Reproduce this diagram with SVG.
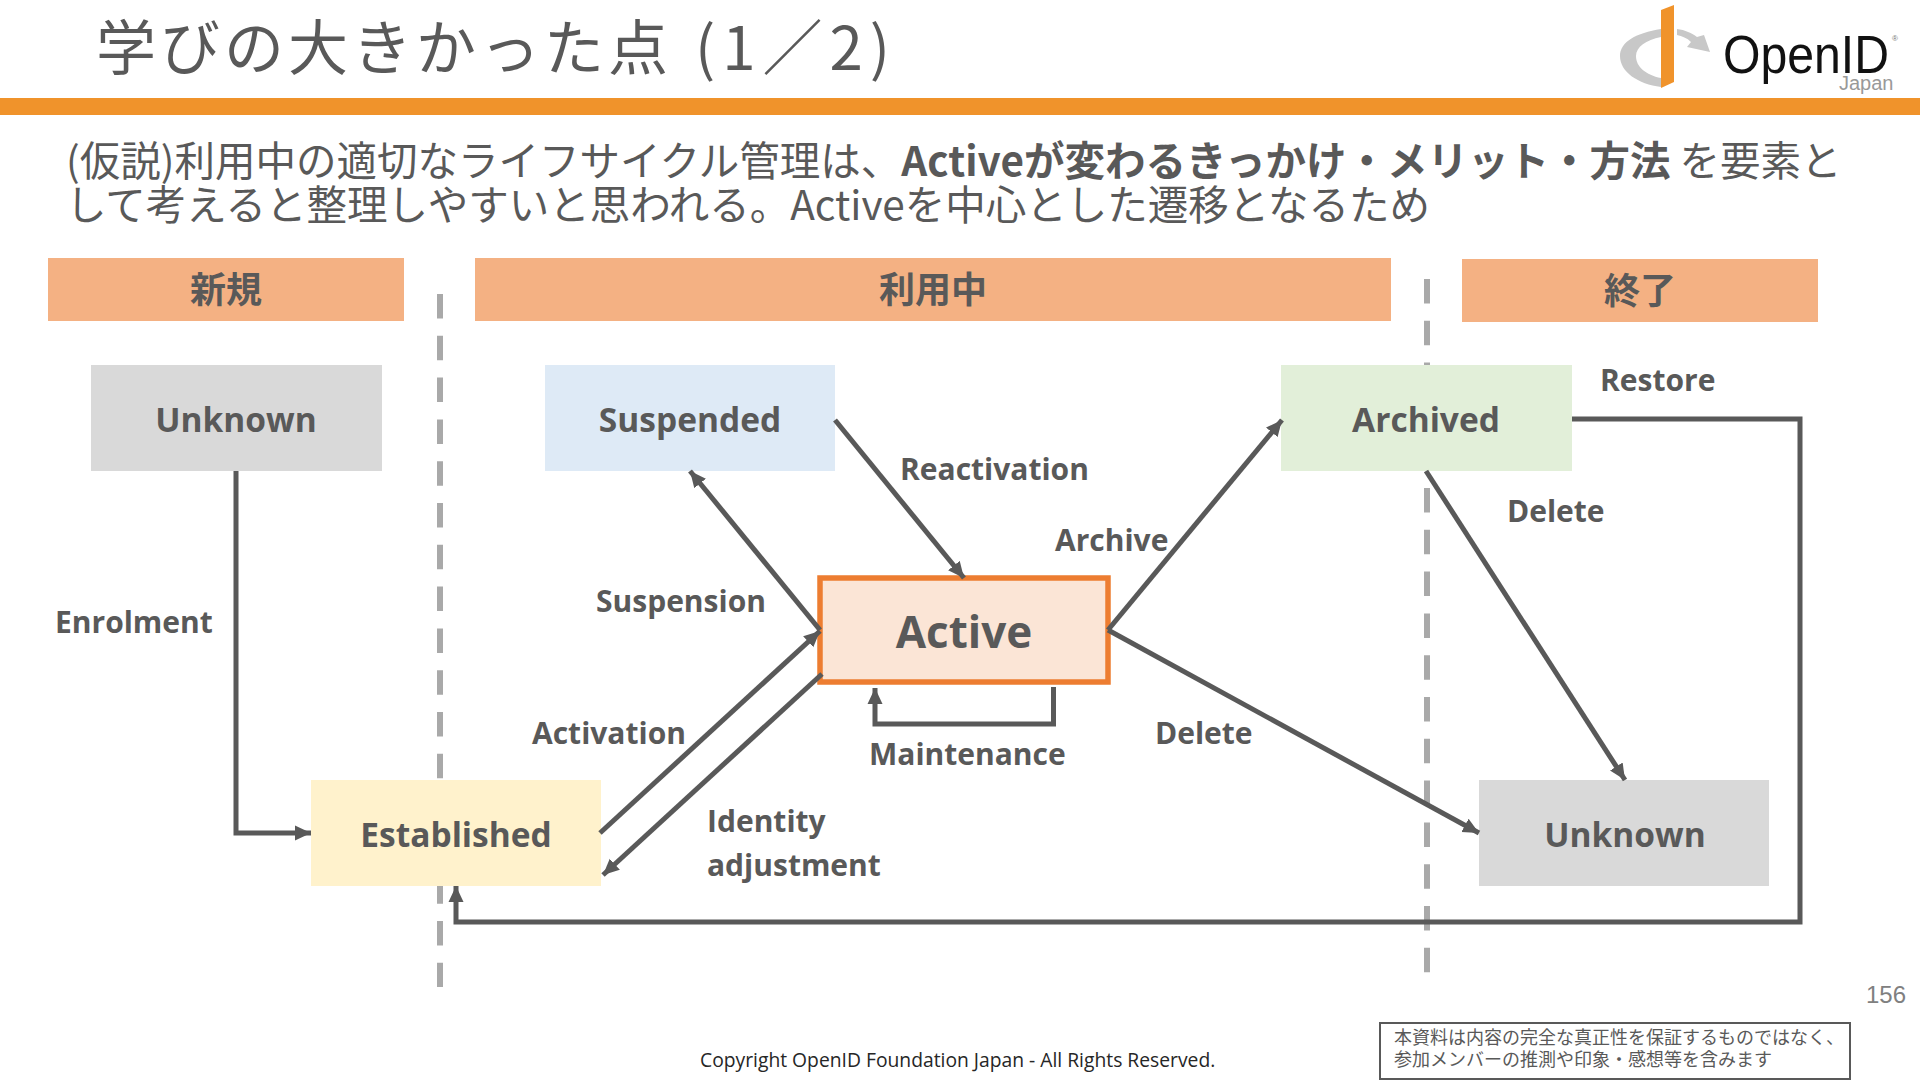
<svg xmlns="http://www.w3.org/2000/svg" width="1920" height="1080" viewBox="0 0 1920 1080">
<style>
text{font-family:"Open Sans","Noto Sans CJK JP",sans-serif;fill:#595959}
.t{font-family:"Noto Sans CJK JP","Noto Sans",sans-serif}
.h{font-family:"Noto Sans CJK JP",sans-serif;font-size:36px;font-weight:700;text-anchor:middle}
.n{font-size:33.500px;font-weight:700;text-anchor:middle}
.l{font-size:30px;font-weight:700}
.a{fill:none;stroke:#595959;stroke-width:5;marker-end:url(#m)}
.d{fill:none;stroke:#a9a9a9;stroke-width:6;stroke-dasharray:24.5 17.3}
.lg{font-family:"Liberation Sans",sans-serif}
</style>
<defs><marker id="m" markerUnits="userSpaceOnUse" markerWidth="18" markerHeight="16" refX="16" refY="8" orient="auto"><path d="M0 0.500L16 8L0 15.500Z" fill="#595959"/></marker></defs>
<rect width="1920" height="1080" fill="#fff"/>
<text class="t" x="96" y="70" font-size="60" letter-spacing="4">学びの大きかった点</text>
<text class="t" x="695" y="70" font-size="60" textLength="195">(1／2)</text>
<rect y="98" width="1920" height="17" fill="#f0932b"/>
<g id="logo">
<path d="M1661 29C1636 33 1620 42 1620 56C1620 72 1638 84 1661 87V78C1646 75 1636 67 1636 56C1636 47 1646 40 1661 37Z" fill="#c8c8c8"/>
<path d="M1661 10L1674 5V82L1661 88Z" fill="#f0932b"/>
<path d="M1677 29C1685 30 1692 33 1697 37L1704 35L1710 52L1687 47L1691 42C1687 38 1682 36 1677 35Z" fill="#c8c8c8"/>
<text class="lg" x="1723" y="73" font-size="53" style="fill:#111" textLength="166" lengthAdjust="spacingAndGlyphs">OpenID</text>
<text class="lg" x="1892" y="41" font-size="8" style="fill:#777">®</text>
<text class="lg" x="1839" y="90" font-size="20" style="fill:#999">Japan</text>
</g>
<text class="t" x="66" y="176" font-size="40.500">(仮説)利用中の適切なライフサイクル管理は、<tspan font-weight="700">Activeが変わるきっかけ・メリット・方法</tspan> を要素と</text>
<text class="t" x="66" y="220" font-size="40.500">して考えると整理しやすいと思われる。Activeを中心とした遷移となるため</text>
<g id="dividers"><path class="d" d="M440 294V987"/><path class="d" d="M1427 279V973"/></g>
<g id="phase-new"><rect x="48" y="258" width="356" height="63" fill="#f4b183"/><text class="h" x="226" y="303">新規</text></g>
<g id="phase-active"><rect x="475" y="258" width="916" height="63" fill="#f4b183"/><text class="h" x="933" y="303">利用中</text></g>
<g id="phase-end"><rect x="1462" y="259" width="356" height="63" fill="#f4b183"/><text class="h" x="1640" y="304">終了</text></g>
<g id="unknown-start"><rect x="91" y="365" width="291" height="106" fill="#d9d9d9"/><text class="n" x="236" y="432">Unknown</text></g>
<g id="suspended"><rect x="545" y="365" width="290" height="106" fill="#deeaf6"/><text class="n" x="690" y="432">Suspended</text></g>
<g id="archived"><rect x="1281" y="365" width="291" height="106" fill="#e2efd9"/><text class="n" x="1426" y="432">Archived</text></g>
<g id="active"><rect x="820" y="578" width="288" height="104" fill="#fbe5d6" stroke="#ed7d31" stroke-width="5.500"/><text x="964" y="648" font-size="44" font-weight="700" text-anchor="middle">Active</text></g>
<g id="established"><rect x="311" y="780" width="290" height="106" fill="#fff2cc"/><text class="n" x="456" y="847">Established</text></g>
<g id="unknown-end"><rect x="1479" y="780" width="290" height="106" fill="#d9d9d9"/><text class="n" x="1625" y="847">Unknown</text></g>
<g id="connectors">
<path class="a" d="M236 471V833H311"/>
<path class="a" d="M600 833L820 631"/>
<path class="a" d="M822 674L603 875"/>
<path class="a" d="M820 630L690 471"/>
<path class="a" d="M835 420L964 578"/>
<path class="a" d="M1053.500 687V724H875V688"/>
<path class="a" d="M1108 630L1282 420"/>
<path class="a" d="M1108 630L1479 833"/>
<path class="a" d="M1426 471L1625 780"/>
<path class="a" d="M1572 419H1800V922H456V886"/>
</g>
<g id="labels">
<text class="l" x="55" y="633">Enrolment</text>
<text class="l" x="596" y="612">Suspension</text>
<text class="l" x="532" y="744">Activation</text>
<text class="l" x="707" y="832">Identity</text>
<text class="l" x="707" y="876">adjustment</text>
<text class="l" x="869" y="765">Maintenance</text>
<text class="l" x="900" y="480">Reactivation</text>
<text class="l" x="1055" y="551">Archive</text>
<text class="l" x="1155" y="744">Delete</text>
<text class="l" x="1507" y="522">Delete</text>
<text class="l" x="1600" y="391">Restore</text>
</g>
<text class="lg" x="1866" y="1003" font-size="24" style="fill:#808080">156</text>
<text x="700" y="1067" font-size="19.300" style="fill:#262626">Copyright OpenID Foundation Japan - All Rights Reserved.</text>
<g id="note"><rect x="1380" y="1023" width="470" height="56" fill="#fff" stroke="#595959" stroke-width="2"/>
<text class="t" x="1394" y="1044" font-size="18">本資料は内容の完全な真正性を保証するものではなく、</text>
<text class="t" x="1394" y="1066" font-size="18">参加メンバーの推測や印象・感想等を含みます</text></g>
</svg>
